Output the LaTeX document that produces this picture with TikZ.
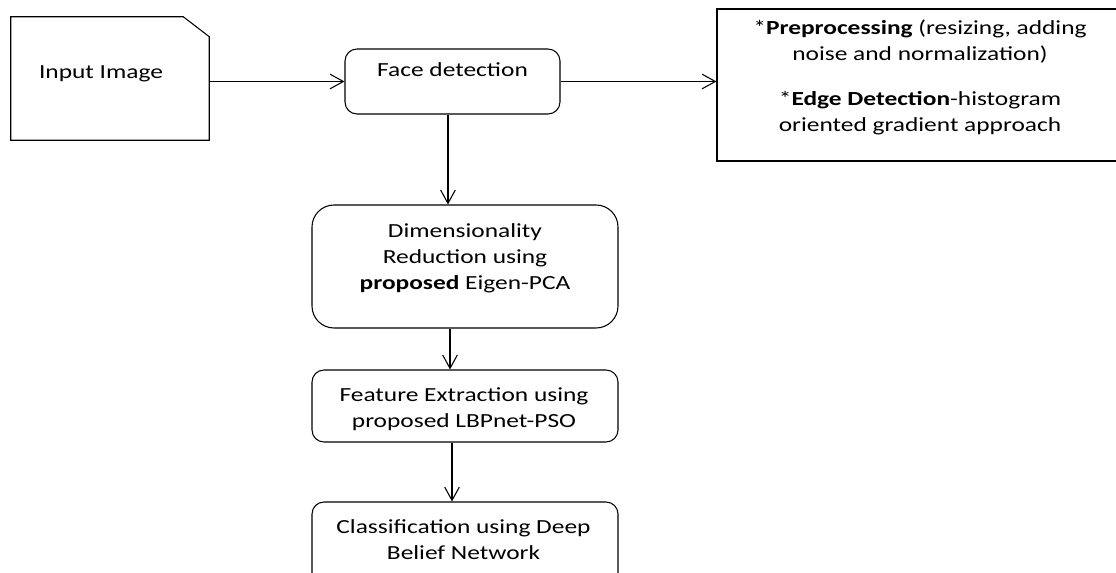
\documentclass[tikz,border=0pt]{standalone}
\usepackage{fontspec}
\setmainfont[FakeStretch=1.27]{Carlito}
\usetikzlibrary{arrows.meta}
\tikzset{
  arr/.style={-{Straight Barb[length=10pt,width=11pt]}, line width=0.8pt},
  boxline/.style={draw, line width=0.8pt, inner sep=0pt},
  txt/.style={align=center, inner sep=0pt, font=\fontsize{15}{19.5}\selectfont},
}
\begin{document}
\begin{tikzpicture}[x=0.75pt,y=-0.75pt]
\useasboundingbox (0,0) rectangle (1116,573);
\clip (0,0) rectangle (1116,573);
% boxes
\node[inner sep=0pt, minimum width=148.5pt, minimum height=92.25pt] (in) at (110,78.5) {};
\draw[line width=0.8pt] (in.south west) -- (in.north west) -- ([xshift=-19.5pt]in.north east)
  -- ([yshift=-15pt]in.north east) -- (in.south east) -- cycle;
\node[boxline, rounded corners=9pt, minimum width=161.25pt, minimum height=48.75pt] (face) at (452.5,81.5) {};
\node[boxline, minimum width=306pt, minimum height=114pt] (rt) at (921,85) {};
\node[boxline, rounded corners=16.5pt, minimum width=229.5pt, minimum height=92.25pt] (dim) at (465,266.5) {};
\node[boxline, rounded corners=9pt, minimum width=229.5pt, minimum height=54pt] (feat) at (465,406) {};
\node[boxline, rounded corners=9pt, minimum width=229.5pt, minimum height=66pt] (cls) at (465,546) {};
% texts
\node[txt, anchor=base] (inT) at (101,79) {Input Image};
\node[txt, anchor=base] (faceT) at (452.5,77) {Face detection};
\node[txt, anchor=north] (rtT) at (920,20) {*\textbf{Preprocessing} (resizing, adding\\ noise and normalization)\\[14pt]
  *\textbf{Edge Detection}-histogram\\ oriented gradient approach};
\node[txt, anchor=north] (dimT) at (465,223) {Dimensionality\\ Reduction using\\ \textbf{proposed} Eigen-PCA};
\node[txt, anchor=north] (featT) at (464,387) {Feature Extraction using\\ proposed LBPnet-PSO};
\node[txt, anchor=north] (clsT) at (463.5,519) {Classification using Deep\\ Belief Network};
% connectors
\draw[arr] (in.east |- face.west) -- (face.west);
\draw[arr] (face.east) -- (face.east -| rt.west);
\draw[arr] ([xshift=-3.4pt]face.south) -- ([xshift=-3.4pt]face.south |- dim.north);
\draw[arr] ([xshift=-11.25pt]dim.south) -- ([xshift=-11.25pt]dim.south |- feat.north);
\draw[arr] ([xshift=-9.75pt]feat.south) -- ([xshift=-9.75pt]feat.south |- cls.north);
\end{tikzpicture}
\end{document}
